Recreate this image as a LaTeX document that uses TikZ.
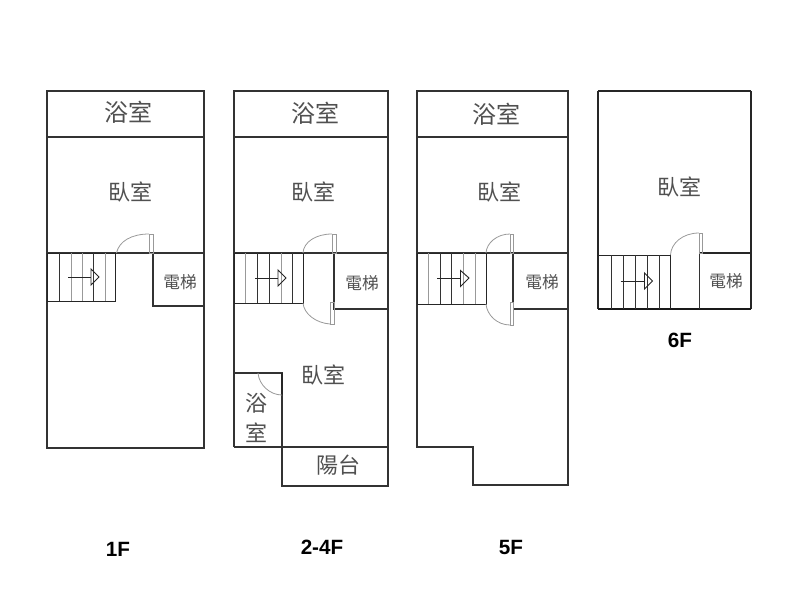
\documentclass[tikz,border=0pt]{standalone}
\usepackage{fontspec}
\setmainfont{Liberation Sans}
\newfontfamily\cjk{Noto Sans CJK TC}
\definecolor{textgray}{HTML}{505050}
\definecolor{doorgray}{HTML}{999999}
\tikzstyle{wall}=[line width=1pt, black!80]
\tikzstyle{thin wall}=[line width=0.7pt, black!85]
\tikzstyle{dark tread}=[line width=0.6pt, black!80]
\tikzstyle{pale tread}=[line width=0.6pt, doorgray]
\tikzstyle{door}=[line width=0.6pt, doorgray]
\tikzstyle{big room}=[textgray, font=\cjk\fontsize{18}{18}\selectfont]
\tikzstyle{mid room}=[textgray, font=\cjk\fontsize{16.5}{17}\selectfont]
\tikzstyle{lift room}=[textgray, font=\cjk\fontsize{12.5}{13}\selectfont]
\tikzstyle{floor name}=[black, font=\bfseries\fontsize{15.5}{16}\selectfont]

\begin{document}
\begin{tikzpicture}[x=0.75pt, y=-0.75pt]
\useasboundingbox (0,0) rectangle (800,600);
%1F walls
    \draw[wall] (47,91) rectangle (204,448);
    \draw[wall] (47,137) -- (204,137);
    \draw[wall] (47,253) -- (204,253);
    \draw[wall] (153,253) -- (153,306) -- (204,306);
    \draw[line width=1.4pt, black!80] (47.5,253) -- (47.5,301);
%1F stairs
    \draw[thin wall] (47,253) rectangle (115,301);
    \draw[dark tread] (59.5,253) -- (59.5,301);
    \draw[pale tread] (71,253) -- (71,301);
    \draw[pale tread] (82.5,253) -- (82.5,301);
    \draw[dark tread] (93.5,253) -- (93.5,301);
    \draw[pale tread] (105,253) -- (105,301);
    \draw[thin wall] (68,277) -- (91,277);
    \draw[thin wall] (91,269) -- (99,277) -- (91,285) -- cycle;
%1F door
    \draw[door] (149,234) rectangle (153,253);
    \draw[door] (116.5,253) .. controls (119,241) and (132,234) .. (149,234);
%2-4F walls
    \draw[wall] (234,447) -- (234,91) -- (388,91) -- (388,486) -- (282,486) -- (282,373) -- (234,373);
    \draw[wall] (234,137) -- (388,137);
    \draw[wall] (234,253) -- (388,253);
    \draw[wall] (234,447) -- (388,447);
    \draw[wall] (334,253) -- (334,309) -- (388,309);
    \draw[line width=1.6pt, black!85] (282,373) -- (282,395);
%2-4F stairs
    \draw[thin wall] (234,253) rectangle (303,303);
    \draw[pale tread] (245.5,253) -- (245.5,303);
    \draw[dark tread] (257.5,253) -- (257.5,303);
    \draw[dark tread] (269.5,253) -- (269.5,303);
    \draw[pale tread] (281,253) -- (281,303);
    \draw[dark tread] (292.5,253) -- (292.5,303);
    \draw[thin wall] (255,278) -- (278,278);
    \draw[thin wall] (278,270) -- (286,278) -- (278,286) -- cycle;
%2-4F doors
    \draw[door] (332,234) rectangle (336,253);
    \draw[door] (303,253) .. controls (303.5,242) and (316,234) .. (332,234);
    \draw[door] (330,302) rectangle (334,324);
    \draw[door] (303,303) .. controls (304,314) and (316,323) .. (330,324);
    \draw[door] (258,373) .. controls (259,385) and (270,395) .. (282,395);
%5F walls
    \draw[wall] (417,91) rectangle (568,137);
    \draw[wall] (417,137) -- (417,447) -- (473,447) -- (473,485) -- (568,485) -- (568,137);
    \draw[wall] (417,253) -- (568,253);
    \draw[wall] (513,253) -- (513,302);
    \draw[thin wall] (513,302) -- (513,325);
    \draw[wall] (513,309) -- (568,309);
%5F stairs
    \draw[thin wall] (417,253) rectangle (486,304);
    \draw[pale tread] (428,253) -- (428,304);
    \draw[dark tread] (440,253) -- (440,304);
    \draw[dark tread] (451.5,253) -- (451.5,304);
    \draw[pale tread] (463.5,253) -- (463.5,304);
    \draw[pale tread] (475,253) -- (475,304);
    \draw[thin wall] (437,278) -- (460.5,278);
    \draw[thin wall] (460.5,270.5) -- (469,278) -- (460.5,286.5) -- cycle;
%5F doors
    \draw[door] (510,234) rectangle (513.5,253);
    \draw[door] (486,253) .. controls (486.5,243) and (497,234) .. (510,234);
    \draw[door] (510,302) rectangle (513.5,325);
    \draw[door] (486,304) .. controls (487,315) and (497,325) .. (510,325);
%6F walls
    \draw[line width=1.2pt, black!85] (598,91) -- (751,91);
    \draw[line width=1.2pt, black!85] (598,91) -- (598,309);
    \draw[line width=1.2pt, black!85] (751,91) -- (751,309);
    \draw[line width=1.6pt, black!90] (598,309) -- (751,309);
    \draw[line width=1.2pt, black!85] (699.5,253) -- (751,253);
    \draw[wall] (699.5,253) -- (699.5,309);
%6F stairs
    \draw[thin wall] (598,255) -- (670.5,255) -- (670.5,309);
    \draw[dark tread] (611.5,255) -- (611.5,309);
    \draw[dark tread] (623.5,255) -- (623.5,309);
    \draw[dark tread] (635.5,255) -- (635.5,309);
    \draw[dark tread] (647.5,255) -- (647.5,309);
    \draw[dark tread] (659.5,255) -- (659.5,309);
    \draw[thin wall] (620.5,281) -- (644.5,281);
    \draw[thin wall] (644.5,273) -- (652.5,281) -- (644.5,289) -- cycle;
%6F door
    \draw[door] (699,233) rectangle (702,253);
    \draw[door] (670.5,255) .. controls (671,243) and (683,233) .. (699,233);
%Room names
    \node[big room] (bath1) at (128,112) {浴室};
    \node[mid room] (bed1) at (130,192) {臥室};
    \node[lift room] (lift1) at (180,282) {電梯};
    \node[big room] (bath2) at (315,113) {浴室};
    \node[mid room] (bed2) at (313,192) {臥室};
    \node[lift room] (lift2) at (362,283) {電梯};
    \node[mid room] (bed2b) at (323,375) {臥室};
    \node[mid room] (bath2a) at (256,403) {浴};
    \node[mid room] (bath2b) at (256,433) {室};
    \node[mid room] (balcony2) at (338,465) {陽台};
    \node[big room] (bath5) at (496,114) {浴室};
    \node[mid room] (bed5) at (499,192) {臥室};
    \node[lift room] (lift5) at (542,282) {電梯};
    \node[mid room] (bed6) at (679,187) {臥室};
    \node[lift room] (lift6) at (726,281) {電梯};
%Floor names
    \node[floor name] (floor1) at (118,549) {1F};
    \node[floor name] (floor2) at (322,547) {2-4F};
    \node[floor name] (floor5) at (511,547) {5F};
    \node[floor name] (floor6) at (680,340) {6F};
\end{tikzpicture}
\end{document}
